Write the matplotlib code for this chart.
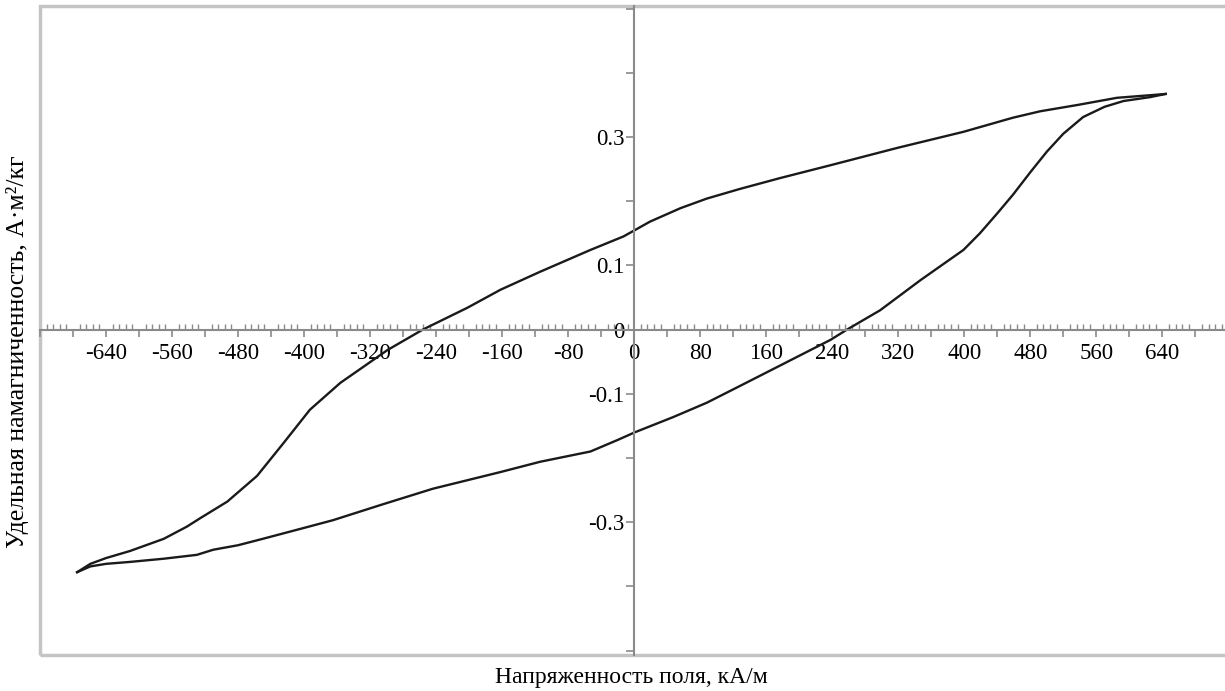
import matplotlib
matplotlib.use('Agg')
import matplotlib.pyplot as plt
from matplotlib.patches import Rectangle
from matplotlib.ticker import FixedLocator, FixedFormatter
import numpy as np

plt.rcParams['font.family'] = ['Liberation Serif', 'DejaVu Serif']
plt.rcParams['axes.unicode_minus'] = False

# Descending branch (from +H tip to -H tip), kA/m and A*m^2/kg
H_desc = [644, 625, 585, 538, 492, 459, 399, 319, 238, 177, 128, 88, 56, 19, 1,
          -13, -53, -114, -162, -202, -256, -299, -356, -393, -425, -457,
          -493, -526, -542, -570, -611, -640, -659, -675]
M_desc = [0.367, 0.365, 0.361, 0.350, 0.340, 0.330, 0.308, 0.283, 0.256, 0.236,
          0.219, 0.204, 0.189, 0.168, 0.155, 0.145, 0.124, 0.090, 0.062, 0.034,
          0.000, -0.032, -0.083, -0.125, -0.177, -0.228, -0.268, -0.294,
          -0.307, -0.326, -0.345, -0.356, -0.365, -0.378]

# Ascending branch (from -H tip to +H tip)
H_asc = [-675, -659, -640, -611, -570, -530, -510, -480, -450, -400, -365, -304,
         -244, -162, -114, -53, -20, 1, 48, 88, 128, 180, 238, 258, 298, 347,
         399, 419, 440, 459, 480, 500, 520, 544, 570, 593, 625, 644]
M_asc = [-0.378, -0.369, -0.365, -0.362, -0.357, -0.351, -0.343, -0.336, -0.326,
         -0.309, -0.297, -0.272, -0.248, -0.222, -0.206, -0.190, -0.172, -0.160,
         -0.136, -0.114, -0.088, -0.054, -0.016, 0.000, 0.030, 0.077, 0.124,
         0.150, 0.181, 0.210, 0.245, 0.277, 0.305, 0.331, 0.347, 0.356, 0.362,
         0.367]

x_labels = [-640, -560, -480, -400, -320, -240, -160, -80, 0,
            80, 160, 240, 320, 400, 480, 560, 640]
y_labels = [-0.3, -0.1, 0.0, 0.1, 0.3]

fig = plt.figure(figsize=(12.25, 6.91), dpi=100)
ax = fig.add_axes([40 / 1225, 36 / 691, 1190 / 1225, 649 / 691])

ax.plot(H_desc, M_desc, color='#1a1a1a', lw=1.7)
ax.plot(H_asc, M_asc, color='#1a1a1a', lw=1.7)

ax.set_xlim(-720, 722)
ax.set_ylim(-0.507, 0.504)

# Maple-style axes crossing at the origin
for side in ['top', 'right']:
    ax.spines[side].set_visible(False)
for side in ['left', 'bottom']:
    ax.spines[side].set_position(('data', 0))
    ax.spines[side].set_color('#8a8a8a')
    ax.spines[side].set_linewidth(1.5)

# x ticks: major every 40 (labels every 80), minor every 8
x_major = np.arange(-720, 721, 40)
x_text = [str(int(v)) if int(v) in x_labels else '' for v in x_major]
ax.xaxis.set_major_locator(FixedLocator(x_major))
ax.xaxis.set_major_formatter(FixedFormatter(x_text))
ax.xaxis.set_minor_locator(FixedLocator(np.arange(-720, 721, 8)))
ax.tick_params(axis='x', which='major', direction='out', length=5, width=1.2,
               color='#8a8a8a', labelsize=16.5, pad=5)
ax.tick_params(axis='x', which='minor', direction='in', length=4, width=1.0,
               color='#8a8a8a')

# y ticks every 0.1, labels on odd tenths and zero
y_major = np.round(np.arange(-0.5, 0.51, 0.1), 1)
y_text = []
for v in y_major:
    if any(abs(v - l) < 1e-9 for l in y_labels):
        y_text.append('0' if abs(v) < 1e-9 else f'{v:.1f}')
    else:
        y_text.append('')
ax.yaxis.set_major_locator(FixedLocator(y_major))
ax.yaxis.set_major_formatter(FixedFormatter(y_text))
ax.tick_params(axis='y', which='major', direction='out', length=6, width=1.2,
               color='#8a8a8a', labelsize=16.5, pad=1)

# outer grey frame
ax.add_patch(Rectangle((0, 0), 1, 1, transform=ax.transAxes, fill=False,
                       edgecolor='#c4c4c4', linewidth=2.5, clip_on=False))

fig.text(631 / 1225, 1 - 677 / 691, 'Напряженность поля, кА/м',
         ha='center', va='center', fontsize=17)
fig.text(18 / 1225, 1 - 352 / 691, 'Удельная намагниченность, А·м²/кг',
         ha='center', va='center', rotation=90, fontsize=18.5)

fig.savefig('out.png', dpi=100)
